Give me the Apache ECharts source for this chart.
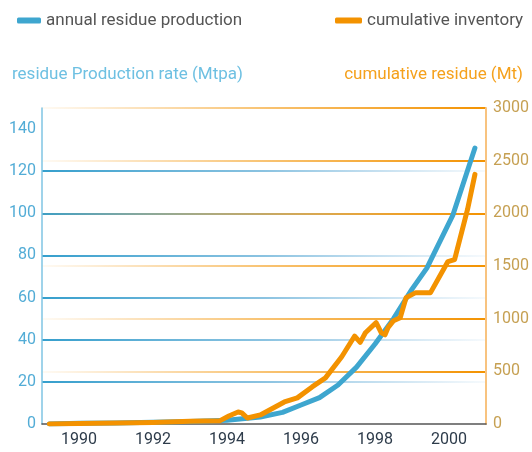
<!DOCTYPE html>
<html>
<head>
<meta charset="utf-8">
<script src="https://cdn.jsdelivr.net/npm/echarts@6/dist/echarts.min.js"></script>
<style>
  html, body { margin: 0; padding: 0; background: #fff; }
  #chart { width: 532px; height: 452px; }
</style>
</head>
<body>
<div id="chart"></div>
<script>
// Annual residue production (Mtpa) by year
const annualYears  = [1989.2, 1990, 1991, 1992, 1993, 1994, 1994.9, 1995.5, 1996, 1996.5, 1997, 1997.5, 1998, 1998.5, 1999, 1999.4, 2000.1, 2000.7];
const annualValues = [0, 0.3, 0.5, 0.8, 1.2, 1.8, 3.3, 5.5, 9, 12.5, 18.5, 27, 38, 50, 64, 74, 99, 131];

// Cumulative residue inventory (Mt) by year
const cumulativeYears  = [1989.2, 1990, 1991, 1992, 1993, 1993.8, 1994.05, 1994.3, 1994.4, 1994.55, 1994.9, 1995.3, 1995.55, 1995.9, 1996.3, 1996.66, 1997.1, 1997.45, 1997.6, 1997.74, 1998.03, 1998.17, 1998.27, 1998.35, 1998.5, 1998.68, 1998.84, 1999.1, 1999.5, 1999.97, 2000.15, 2000.5, 2000.7];
const cumulativeValues = [0, 5, 10, 15, 25, 30, 76, 114, 105, 57, 86, 162, 209, 248, 352, 438, 638, 835, 775, 866, 962, 866, 847, 914, 981, 1009, 1200, 1247, 1247, 1542, 1561, 2037, 2370];

const yearLabels = [1990, 1992, 1994, 1996, 1998, 2000];
const rateTicks = [0, 20, 40, 60, 80, 100, 120, 140];
const residueTicks = [0, 500, 1000, 1500, 2000, 2500, 3000];

const seriesNames = ['annual residue production', 'cumulative inventory'];
const axisNames = ['residue Production rate (Mtpa)', 'cumulative residue (Mt)'];

const BLUE = '#3ea6cf';
const ORANGE = '#f39200';
const FONT = 'Roboto, "Noto Sans", sans-serif';

const pairs = (xs, ys) => xs.map((x, i) => [x, ys[i]]);

// Grid lines: blue ones fade toward the right, orange ones toward the left
const blueFade = {
  type: 'linear', x: 0, y: 0, x2: 1, y2: 0,
  colorStops: [
    { offset: 0, color: 'rgba(52,158,204,1)' },
    { offset: 0.5, color: 'rgba(100,175,215,0.75)' },
    { offset: 1, color: 'rgba(120,180,220,0.06)' }
  ]
};
const orangeFade = {
  type: 'linear', x: 0, y: 0, x2: 1, y2: 0,
  colorStops: [
    { offset: 0, color: 'rgba(243,146,0,0.04)' },
    { offset: 0.5, color: 'rgba(243,146,0,0.55)' },
    { offset: 1, color: 'rgba(243,146,0,1)' }
  ]
};

const rateMax = 150;
const blueLineColors = [];
const rateAllTicks = rateTicks.concat([rateMax]);
rateAllTicks.forEach(v => {
  blueLineColors.push(v === 0 || v >= 140 ? 'rgba(0,0,0,0)' : blueFade);
});
const orangeLineColors = residueTicks.map(v => v === 0 ? 'rgba(0,0,0,0)' : orangeFade);

const chart = echarts.init(document.getElementById('chart'), null, { renderer: 'canvas' });

chart.setOption({
  backgroundColor: '#ffffff',
  animation: false,
  textStyle: { fontFamily: FONT },
  legend: [
    {
      data: [seriesNames[0]],
      left: 12, top: 7,
      itemWidth: 24, itemHeight: 6,
      icon: 'roundRect',
      textStyle: { color: '#555', fontSize: 17, fontFamily: FONT }
    },
    {
      data: [seriesNames[1]],
      left: 330, top: 7,
      itemWidth: 27, itemHeight: 6,
      icon: 'roundRect',
      textStyle: { color: '#555', fontSize: 17, fontFamily: FONT }
    }
  ],
  graphic: [
    {
      type: 'text', left: 12, top: 66,
      style: { text: axisNames[0], fill: '#6ec0e2', font: '17px ' + FONT }
    },
    {
      type: 'text', right: 9, top: 66,
      style: { text: axisNames[1], fill: '#f5a11c', font: '17px ' + FONT }
    }
  ],
  grid: { left: 42, right: 44, top: 108, bottom: 28 },
  xAxis: {
    type: 'value',
    min: 1989, max: 2001,
    axisLine: { show: true, lineStyle: { color: '#555', width: 1.5 } },
    axisTick: { show: false },
    splitLine: { show: false },
    axisLabel: {
      customValues: yearLabels,
      color: '#2d3b4a', fontSize: 16, margin: 8, fontFamily: FONT,
      formatter: v => String(v)
    }
  },
  yAxis: [
    {
      type: 'value',
      min: 0, max: rateMax, interval: 20,
      position: 'left',
      axisLine: { show: true, lineStyle: { color: '#7fc5e3', width: 1.5 } },
      axisTick: { show: false },
      axisLabel: {
        color: '#52acd6', fontSize: 16, margin: 6, fontFamily: FONT,
        formatter: v => (rateTicks.indexOf(v) >= 0 ? String(v) : '')
      },
      splitLine: { show: true, lineStyle: { color: blueLineColors, width: 2 } }
    },
    {
      type: 'value',
      min: 0, max: 3000, interval: 500,
      position: 'right',
      axisLine: { show: true, lineStyle: { color: '#f8c37f', width: 2 } },
      axisTick: { show: false },
      axisLabel: {
        color: '#c6a052', fontSize: 16, margin: 7, fontFamily: FONT,
        formatter: v => String(v)
      },
      splitLine: { show: true, lineStyle: { color: orangeLineColors, width: 2 } }
    }
  ],
  series: [
    {
      name: seriesNames[0],
      type: 'line',
      yAxisIndex: 0,
      data: pairs(annualYears, annualValues),
      showSymbol: false,
      lineStyle: { color: BLUE, width: 5, cap: 'round', join: 'round' },
      itemStyle: { color: BLUE },
      z: 3
    },
    {
      name: seriesNames[1],
      type: 'line',
      yAxisIndex: 1,
      data: pairs(cumulativeYears, cumulativeValues),
      showSymbol: false,
      lineStyle: { color: ORANGE, width: 5, cap: 'round', join: 'round' },
      itemStyle: { color: ORANGE },
      z: 4
    }
  ]
});
</script>
</body>
</html>
